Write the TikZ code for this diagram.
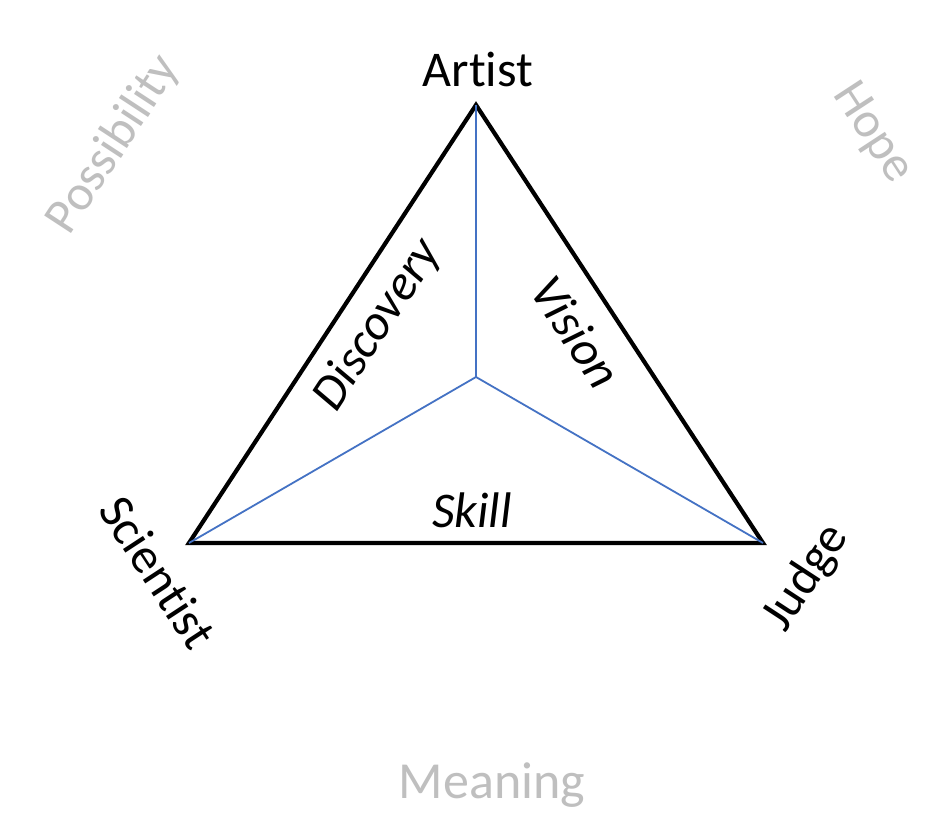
\documentclass[tikz,border=0pt]{standalone}
\usepackage{fontspec}
\setmainfont{Carlito}[Ligatures=NoCommon]
\begin{document}
\begin{tikzpicture}[x=1pt,y=-1pt,
  tri/.style={draw=black,line width=4.2pt,line join=miter},
  spoke/.style={draw=spokeblue,line width=1.8pt},
  lbl/.style={inner sep=0pt,font=\fontsize{50}{60}\selectfont},
  edge/.style={lbl,font=\fontsize{50}{60}\selectfont\itshape},
  faint/.style={lbl,text=faintgray}]
\definecolor{spokeblue}{HTML}{4472C4}
\definecolor{faintgray}{HTML}{BFBFBF}
\useasboundingbox[fill=white] (0,0) rectangle (936,818);
\coordinate (A) at (476,105);
\coordinate (S) at (189,543);
\coordinate (J) at (763,543);
\coordinate (C) at (476,377);
\draw[tri] (A) -- (S) -- (J) -- cycle;
\draw[spoke] (C) -- (A);
\draw[spoke] (C) -- (S);
\draw[spoke] (C) -- (J);
\node[lbl,anchor=base] (artist) at (478,87) {Artist};
\node[lbl,rotate=-56.8] (scientist) at (158,572) {Scientist};
\node[lbl,rotate=56.8] (judge) at (806,578) {Judge};
\node[edge,rotate=56.8] (discovery) at (378,325) {Discovery};
\node[edge,rotate=-56.8] (vision) at (576,332) {Vision};
\node[edge,anchor=base] (skill) at (472,527) {Skill};
\node[faint,rotate=56.8] (possibility) at (114,145) {Possibility};
\node[faint,rotate=-56.8] (hope) at (872,133) {Hope};
\node[faint,anchor=base,font=\fontsize{52}{60}\selectfont] (meaning) at (492,798) {Meaning};
\end{tikzpicture}
\end{document}
